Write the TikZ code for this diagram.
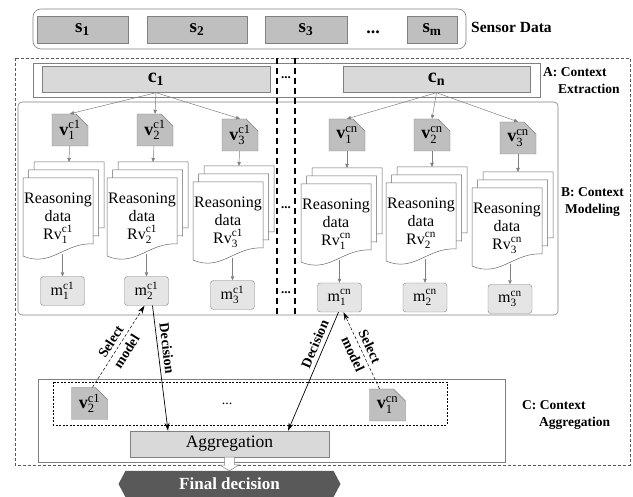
\documentclass[tikz,border=0pt]{standalone}
\usepackage{fontspec}
\setmainfont{Liberation Serif}
\usetikzlibrary{arrows.meta,shapes.misc,shapes.symbols,calc}

\newcommand{\docsheet}[2]{%
  \draw[sheet] (#1,#2) -- (#1+70,#2) -- (#1+70,#2+66)
    .. controls (#1+42,#2+64) and (#1+28,#2+90) .. (#1,#2+78) -- cycle;}
\newcommand{\docstack}[5]{%
  \docsheet{#2+11}{#3-16}
  \docsheet{#2+5.5}{#3-8}
  \docsheet{#2}{#3}
  \coordinate (#1_in) at (#2+46,#3-16);
  \coordinate (#1_out) at (#2+39,#3+76);
  \node[reason] (#1) at (#2+35,#3+40) {Reasoning\\data\\Rv$_{\mathrm{#4}}^{\mathrm{#5}}$};}

\begin{document}
\begin{tikzpicture}[x=1pt, y=-1pt,
    panel/.style={draw=gray, line width=0.6pt},
    sensor/.style={draw=gray, fill=gray!50, minimum height=27pt, inner sep=0pt, font=\fontsize{19}{21}\selectfont},
    ctx/.style={draw=gray, fill=gray!30, minimum height=26pt, inner sep=0pt, font=\fontsize{20}{22}\selectfont},
    vbox/.style={chamfered rectangle, chamfered rectangle corners=north east, chamfered rectangle xsep=6pt, chamfered rectangle ysep=6pt, draw=gray, fill=gray!50, minimum width=36pt, minimum height=32pt, inner sep=0pt, font=\fontsize{18}{20}\selectfont},
    sheet/.style={draw=gray!80!black, fill=white, line width=0.5pt},
    reason/.style={align=center, inner sep=0pt, font=\fontsize{16}{18}\selectfont},
    model/.style={draw=gray, fill=gray!20, rounded corners=3pt, minimum width=44pt, minimum height=29pt, inner sep=0pt, font=\fontsize{16}{18}\selectfont},
    agg/.style={draw=gray, fill=gray!30, minimum width=199pt, minimum height=26pt, inner sep=0pt, font=\fontsize{17.5}{20}\selectfont},
    final/.style={signal, signal to=west and east, signal pointer angle=124, fill=black!65, text=white, minimum width=222pt, minimum height=26pt, inner sep=0pt, font=\fontsize{17}{20}\selectfont\bfseries},
    flow/.style={draw=gray, line width=0.5pt, -{Triangle[length=4pt,width=3.5pt]}},
    decide/.style={draw=black, line width=0.7pt, -{Stealth[length=8pt,width=5pt]}},
    pick/.style={draw=black, line width=0.5pt, dash pattern=on 3pt off 2pt, -{Stealth[length=8pt,width=5pt]}},
    arrowtext/.style={font=\fontsize{14}{18.5}\selectfont\bfseries, align=center, inner sep=1pt},
    partlabel/.style={font=\fontsize{13.5}{17}\selectfont\bfseries, align=left, inner sep=0pt},
    ellip/.style={font=\fontsize{13}{15}\selectfont\bfseries, inner sep=0pt},
  ]
  \useasboundingbox (0,0) rectangle (633,497);
  \draw[panel, draw=gray!70!black, dash pattern=on 3pt off 2pt] (15,58) rectangle (630,465);
  \draw[panel, rounded corners=8pt] (33,9) rectangle (466,49);
  \draw[panel, fill=white] (33,63) rectangle (540,97);
  \draw[panel, rounded corners=4pt] (18,102) rectangle (558,315);
  \draw[panel] (38,379) rectangle (505,462);
  \draw[black, line width=0.5pt, dash pattern=on 2pt off 1.5pt] (53,382) rectangle (447,425);
  \draw[black, line width=1.3pt, dash pattern=on 6pt off 4pt] (277,58) -- (277,315) (295,58) -- (295,315);

  \node[sensor, minimum width=91pt] (s1) at (82.5,29.5) {$\mathbf{s}_{\mathbf{1}}$};
  \node[sensor, minimum width=100pt] (s2) at (197,29.5) {$\mathbf{s}_{\mathbf{2}}$};
  \node[sensor, minimum width=82pt] (s3) at (306,29.5) {$\mathbf{s}_{\mathbf{3}}$};
  \node[ellip, font=\fontsize{18}{20}\selectfont\bfseries] (sdots) at (373,32) {...};
  \node[sensor, minimum width=50pt] (sm) at (432,29.5) {$\mathbf{s}_{\mathbf{m}}$};
  \node[partlabel, font=\fontsize{15.5}{18}\selectfont\bfseries, anchor=west] (lblS) at (471,27) {Sensor Data};

  \node[ctx, minimum width=228pt] (c1) at (156,79.5) {$\mathbf{c}_{\mathbf{1}}$};
  \node[ctx, minimum width=187pt] (cn) at (436.5,79.5) {$\mathbf{c}_{\mathbf{n}}$};
  \node[ellip] (dots1) at (286,78) {...};
  \node[partlabel, anchor=west] (lblA) at (543,81) {A: Context\\\hspace*{15pt}Extraction};

  \node[vbox] (v11) at (70,130) {$\mathbf{v}_{\mathrm{1}}^{\mathrm{c1}}$};
  \node[vbox] (v12) at (155,130) {$\mathbf{v}_{\mathrm{2}}^{\mathrm{c1}}$};
  \node[vbox] (v13) at (240,135) {$\mathbf{v}_{\mathrm{3}}^{\mathrm{c1}}$};
  \node[vbox] (vn1) at (347,135) {$\mathbf{v}_{\mathrm{1}}^{\mathrm{cn}}$};
  \node[vbox] (vn2) at (432,135) {$\mathbf{v}_{\mathrm{2}}^{\mathrm{cn}}$};
  \node[vbox] (vn3) at (518,138) {$\mathbf{v}_{\mathrm{3}}^{\mathrm{cn}}$};
  \draw[flow] (c1.south) -- (v11.north);
  \draw[flow] (c1.south) -- (v12.north);
  \draw[flow] (c1.south) -- (v13.north);
  \draw[flow] (cn.south) -- (vn1.north);
  \draw[flow] (cn.south) -- (vn2.north);
  \draw[flow] (cn.south) -- (vn3.north);

  \docstack{d11}{23}{178}{1}{c1}
  \docstack{d12}{107}{178}{2}{c1}
  \docstack{d13}{193}{182}{3}{c1}
  \docstack{dn1}{301}{184}{1}{cn}
  \docstack{dn2}{386}{183}{2}{cn}
  \docstack{dn3}{472}{188}{3}{cn}
  \node[ellip] (dots2) at (286,208) {...};
  \node[ellip] (dots3) at (286,293) {...};
  \node[partlabel, anchor=east] (lblB) at (624,202) {B: Context\\\hspace*{4pt}Modeling};

  \node[model] (m11) at (62.5,291) {$\mathrm{m}_{\mathrm{1}}^{\mathrm{c1}}$};
  \node[model] (m12) at (146.5,291) {$\mathrm{m}_{\mathrm{2}}^{\mathrm{c1}}$};
  \node[model] (m13) at (232.5,295) {$\mathrm{m}_{\mathrm{3}}^{\mathrm{c1}}$};
  \node[model] (mn1) at (339.5,297.5) {$\mathrm{m}_{\mathrm{1}}^{\mathrm{cn}}$};
  \node[model] (mn2) at (425,297.5) {$\mathrm{m}_{\mathrm{2}}^{\mathrm{cn}}$};
  \node[model] (mn3) at (510,299) {$\mathrm{m}_{\mathrm{3}}^{\mathrm{cn}}$};
  \draw[flow] (v11) -- (d11_in);
  \draw[flow] (v12) -- (d12_in);
  \draw[flow] (v13) -- (d13_in);
  \draw[flow] (vn1) -- (dn1_in);
  \draw[flow] (vn2) -- (dn2_in);
  \draw[flow] (vn3) -- (dn3_in);
  \draw[flow] (d11_out -| m11.north) -- (m11.north);
  \draw[flow] (d12_out -| m12.north) -- (m12.north);
  \draw[flow] (d13_out -| m13.north) -- (m13.north);
  \draw[flow] (dn1_out -| mn1.north) -- (mn1.north);
  \draw[flow] (dn2_out -| mn2.north) -- (mn2.north);
  \draw[flow] (dn3_out -| mn3.north) -- (mn3.north);

  \node[vbox] (v2x) at (89.5,403.5) {$\mathbf{v}_{\mathrm{2}}^{\mathrm{c1}}$};
  \node[vbox] (vnx) at (387.5,405) {$\mathbf{v}_{\mathrm{1}}^{\mathrm{cn}}$};
  \node[ellip, font=\fontsize{14}{16}\selectfont] (cdots) at (227,404) {...};
  \node[agg] (agg) at (229.5,444) {Aggregation};
  \node[final] (final) at (229.5,484) {Final decision};
  \node[partlabel, anchor=west] (lblC) at (522,415) {C: Context\\\hspace*{17pt}Aggregation};

  \draw[pick] ([xshift=3pt]v2x.north) -- node[arrowtext, sloped] {Select\\model} ([xshift=-2pt]m12.south);
  \draw[decide] ([xshift=6pt]m12.south) -- node[arrowtext, sloped, pos=0.35, above=3pt] {Decision} ([xshift=-61.5pt]agg.north);
  \draw[decide] ([xshift=-1pt]mn1.south) -- node[arrowtext, sloped, pos=0.3, above=3pt] {Decision} ([xshift=58.5pt]agg.north);
  \draw[pick] ([xshift=-8pt]vnx.north) -- node[arrowtext, sloped] {Select\\model} ([xshift=4pt]mn1.south);
  \draw[draw=gray, fill=white, line width=0.5pt] ([xshift=-5pt]agg.south) -- ++(0,8) -- ++(-4.5,0) -- (final.north) -- ++(9.5,-6) -- ++(-4.5,0) -- ([xshift=5pt]agg.south) -- cycle;
\end{tikzpicture}
\end{document}
